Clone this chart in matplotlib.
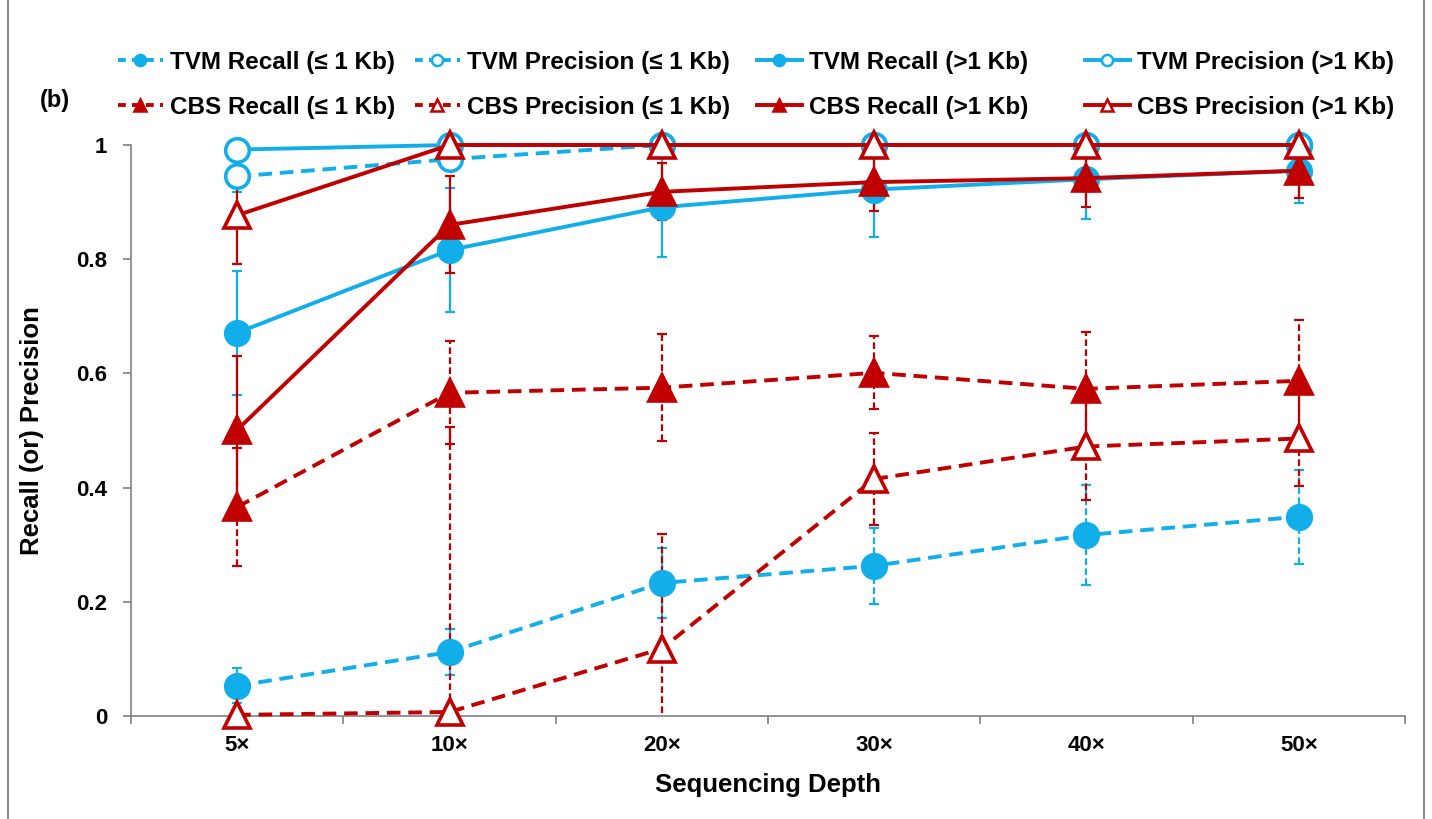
import numpy as np
import matplotlib
matplotlib.use('Agg')
import matplotlib.pyplot as plt
from matplotlib.lines import Line2D
from matplotlib.patches import Rectangle

plt.rcParams['font.family'] = ['Liberation Sans', 'DejaVu Sans']
plt.rcParams['font.weight'] = 'bold'

depths = ['5×', '10×', '20×', '30×', '40×', '50×']

# values (mean, error half-width)
tvm_recall_small = [0.053, 0.112, 0.233, 0.263, 0.317, 0.349]
tvm_recall_small_err = [0.031, 0.041, 0.062, 0.067, 0.087, 0.082]
tvm_prec_small = [0.945, 0.975, 1.0, 1.0, 1.0, 1.0]
tvm_prec_small_err = [0.027, 0.02, 0.0, 0.0, 0.0, 0.0]
tvm_recall_large = [0.671, 0.816, 0.891, 0.922, 0.940, 0.955]
tvm_recall_large_err = [0.108, 0.109, 0.087, 0.083, 0.070, 0.057]
tvm_prec_large = [0.992, 1.0, 1.0, 1.0, 1.0, 1.0]
tvm_prec_large_err = [0.012, 0.0, 0.0, 0.0, 0.0, 0.0]

cbs_recall_small = [0.366, 0.566, 0.575, 0.601, 0.573, 0.587]
cbs_recall_small_err = [0.104, 0.090, 0.094, 0.064, 0.100, 0.106]
cbs_prec_small = [0.002, 0.007, 0.118, 0.415, 0.472, 0.486]
cbs_prec_small_err = [0.0, 0.5, 0.2, 0.080, 0.093, 0.083]
cbs_recall_large = [0.501, 0.860, 0.918, 0.935, 0.942, 0.955]
cbs_recall_large_err = [0.130, 0.085, 0.050, 0.050, 0.050, 0.047]
cbs_prec_large = [0.877, 1.0, 1.0, 1.0, 1.0, 1.0]
cbs_prec_large_err = [0.085, 0.0, 0.0, 0.0, 0.0, 0.0]

blue = '#12AEEA'
red = '#C00000'

series = [
    # label, values, errors, color, dashed, marker, filled
    ('TVM Recall (≤ 1 Kb)', tvm_recall_small, tvm_recall_small_err, blue, True, 'o', True),
    ('TVM Precision (≤ 1 Kb)', tvm_prec_small, tvm_prec_small_err, blue, True, 'o', False),
    ('TVM Recall (>1 Kb)', tvm_recall_large, tvm_recall_large_err, blue, False, 'o', True),
    ('TVM Precision (>1 Kb)', tvm_prec_large, tvm_prec_large_err, blue, False, 'o', False),
    ('CBS Recall (≤ 1 Kb)', cbs_recall_small, cbs_recall_small_err, red, True, '^', True),
    ('CBS Precision (≤ 1 Kb)', cbs_prec_small, cbs_prec_small_err, red, True, '^', False),
    ('CBS Recall (>1 Kb)', cbs_recall_large, cbs_recall_large_err, red, False, '^', True),
    ('CBS Precision (>1 Kb)', cbs_prec_large, cbs_prec_large_err, red, False, '^', False),
]

fig = plt.figure(figsize=(14.32, 8.19), dpi=100)
ax = fig.add_axes([131/1432, 1-716/819, (1405-131)/1432, (716-145)/819])

x = np.arange(1, len(depths)+1)
handles = {}
for i, (lab, vals, errs, col, dashed, mk, filled) in enumerate(series):
    eb = ax.errorbar(x, vals, yerr=errs, fmt='none', ecolor=col, elinewidth=1.6,
                     capsize=3.5, capthick=1.6, zorder=2+i*0.1)
    if dashed:
        eb[2][0].set_linestyle((0, (3, 1.5)))
    ms = 17 if mk == 'o' else 19
    ax.plot(x, vals, color=col, lw=2.8,
            ls=(0, (3.5, 2)) if dashed else '-',
            marker=mk, ms=ms, mec=col, mew=2.6,
            mfc=col if filled else 'white', clip_on=False, zorder=3+i*0.1)
    handles[lab] = Line2D([], [], color=col, lw=2.8,
                          ls=(0, (2.0, 1.6)) if dashed else '-',
                          marker=mk, ms=8, mec=col, mew=1.8,
                          mfc=col if filled else 'white')

ax.set_xlim(0.5, len(depths)+0.5)
ax.set_ylim(0, 1)
ax.set_xticks(np.arange(0.5, len(depths)+1, 1))
ax.set_xticklabels([])
ax.set_xticks(x, depths, minor=True)
ax.tick_params(axis='x', which='major', length=6, color='#808080', width=1.2)
ax.tick_params(axis='x', which='minor', length=0, pad=14, labelsize=16)
ax.set_yticks([0, 0.2, 0.4, 0.6, 0.8, 1.0], ['0', '0.2', '0.4', '0.6', '0.8', '1'])
ax.tick_params(axis='y', length=6, color='#808080', width=1.2, pad=11, labelsize=16)
for s in ['top', 'right']:
    ax.spines[s].set_visible(False)
for s in ['left', 'bottom']:
    ax.spines[s].set_color('#808080')
    ax.spines[s].set_linewidth(1.2)

ax.set_xlabel('Sequencing Depth', fontsize=18.5, fontweight='bold')
ax.set_ylabel('Recall (or) Precision', fontsize=18.5, fontweight='bold')
ax.xaxis.set_label_coords(0.5, -0.099)
ax.yaxis.set_label_coords(-0.068, 0.5)

# legend: one small legend per column, two rows each
columns = [
    (118, ['TVM Recall (≤ 1 Kb)', 'CBS Recall (≤ 1 Kb)']),
    (415, ['TVM Precision (≤ 1 Kb)', 'CBS Precision (≤ 1 Kb)']),
    (757, ['TVM Recall (>1 Kb)', 'CBS Recall (>1 Kb)']),
    (1085, ['TVM Precision (>1 Kb)', 'CBS Precision (>1 Kb)']),
]
for xpix, labs in columns:
    fig.legend([handles[k] for k in labs], labs, loc='upper left',
               bbox_to_anchor=(xpix/1432, 1-51/819), frameon=False,
               prop={'size': 17.5, 'weight': 'bold'}, handlelength=1.85,
               handletextpad=0.3, labelspacing=0.9,
               borderpad=0, borderaxespad=0)

fig.text(40/1432, 1-101/819, '(b)', fontsize=17, fontweight='bold', va='center')

fig.patches.append(Rectangle((8/1432, -0.01), (1424-8)/1432, 1.02, transform=fig.transFigure,
                             fill=False, edgecolor='#8c8c8c', lw=1.5))

fig.savefig('out.png', dpi=100)
